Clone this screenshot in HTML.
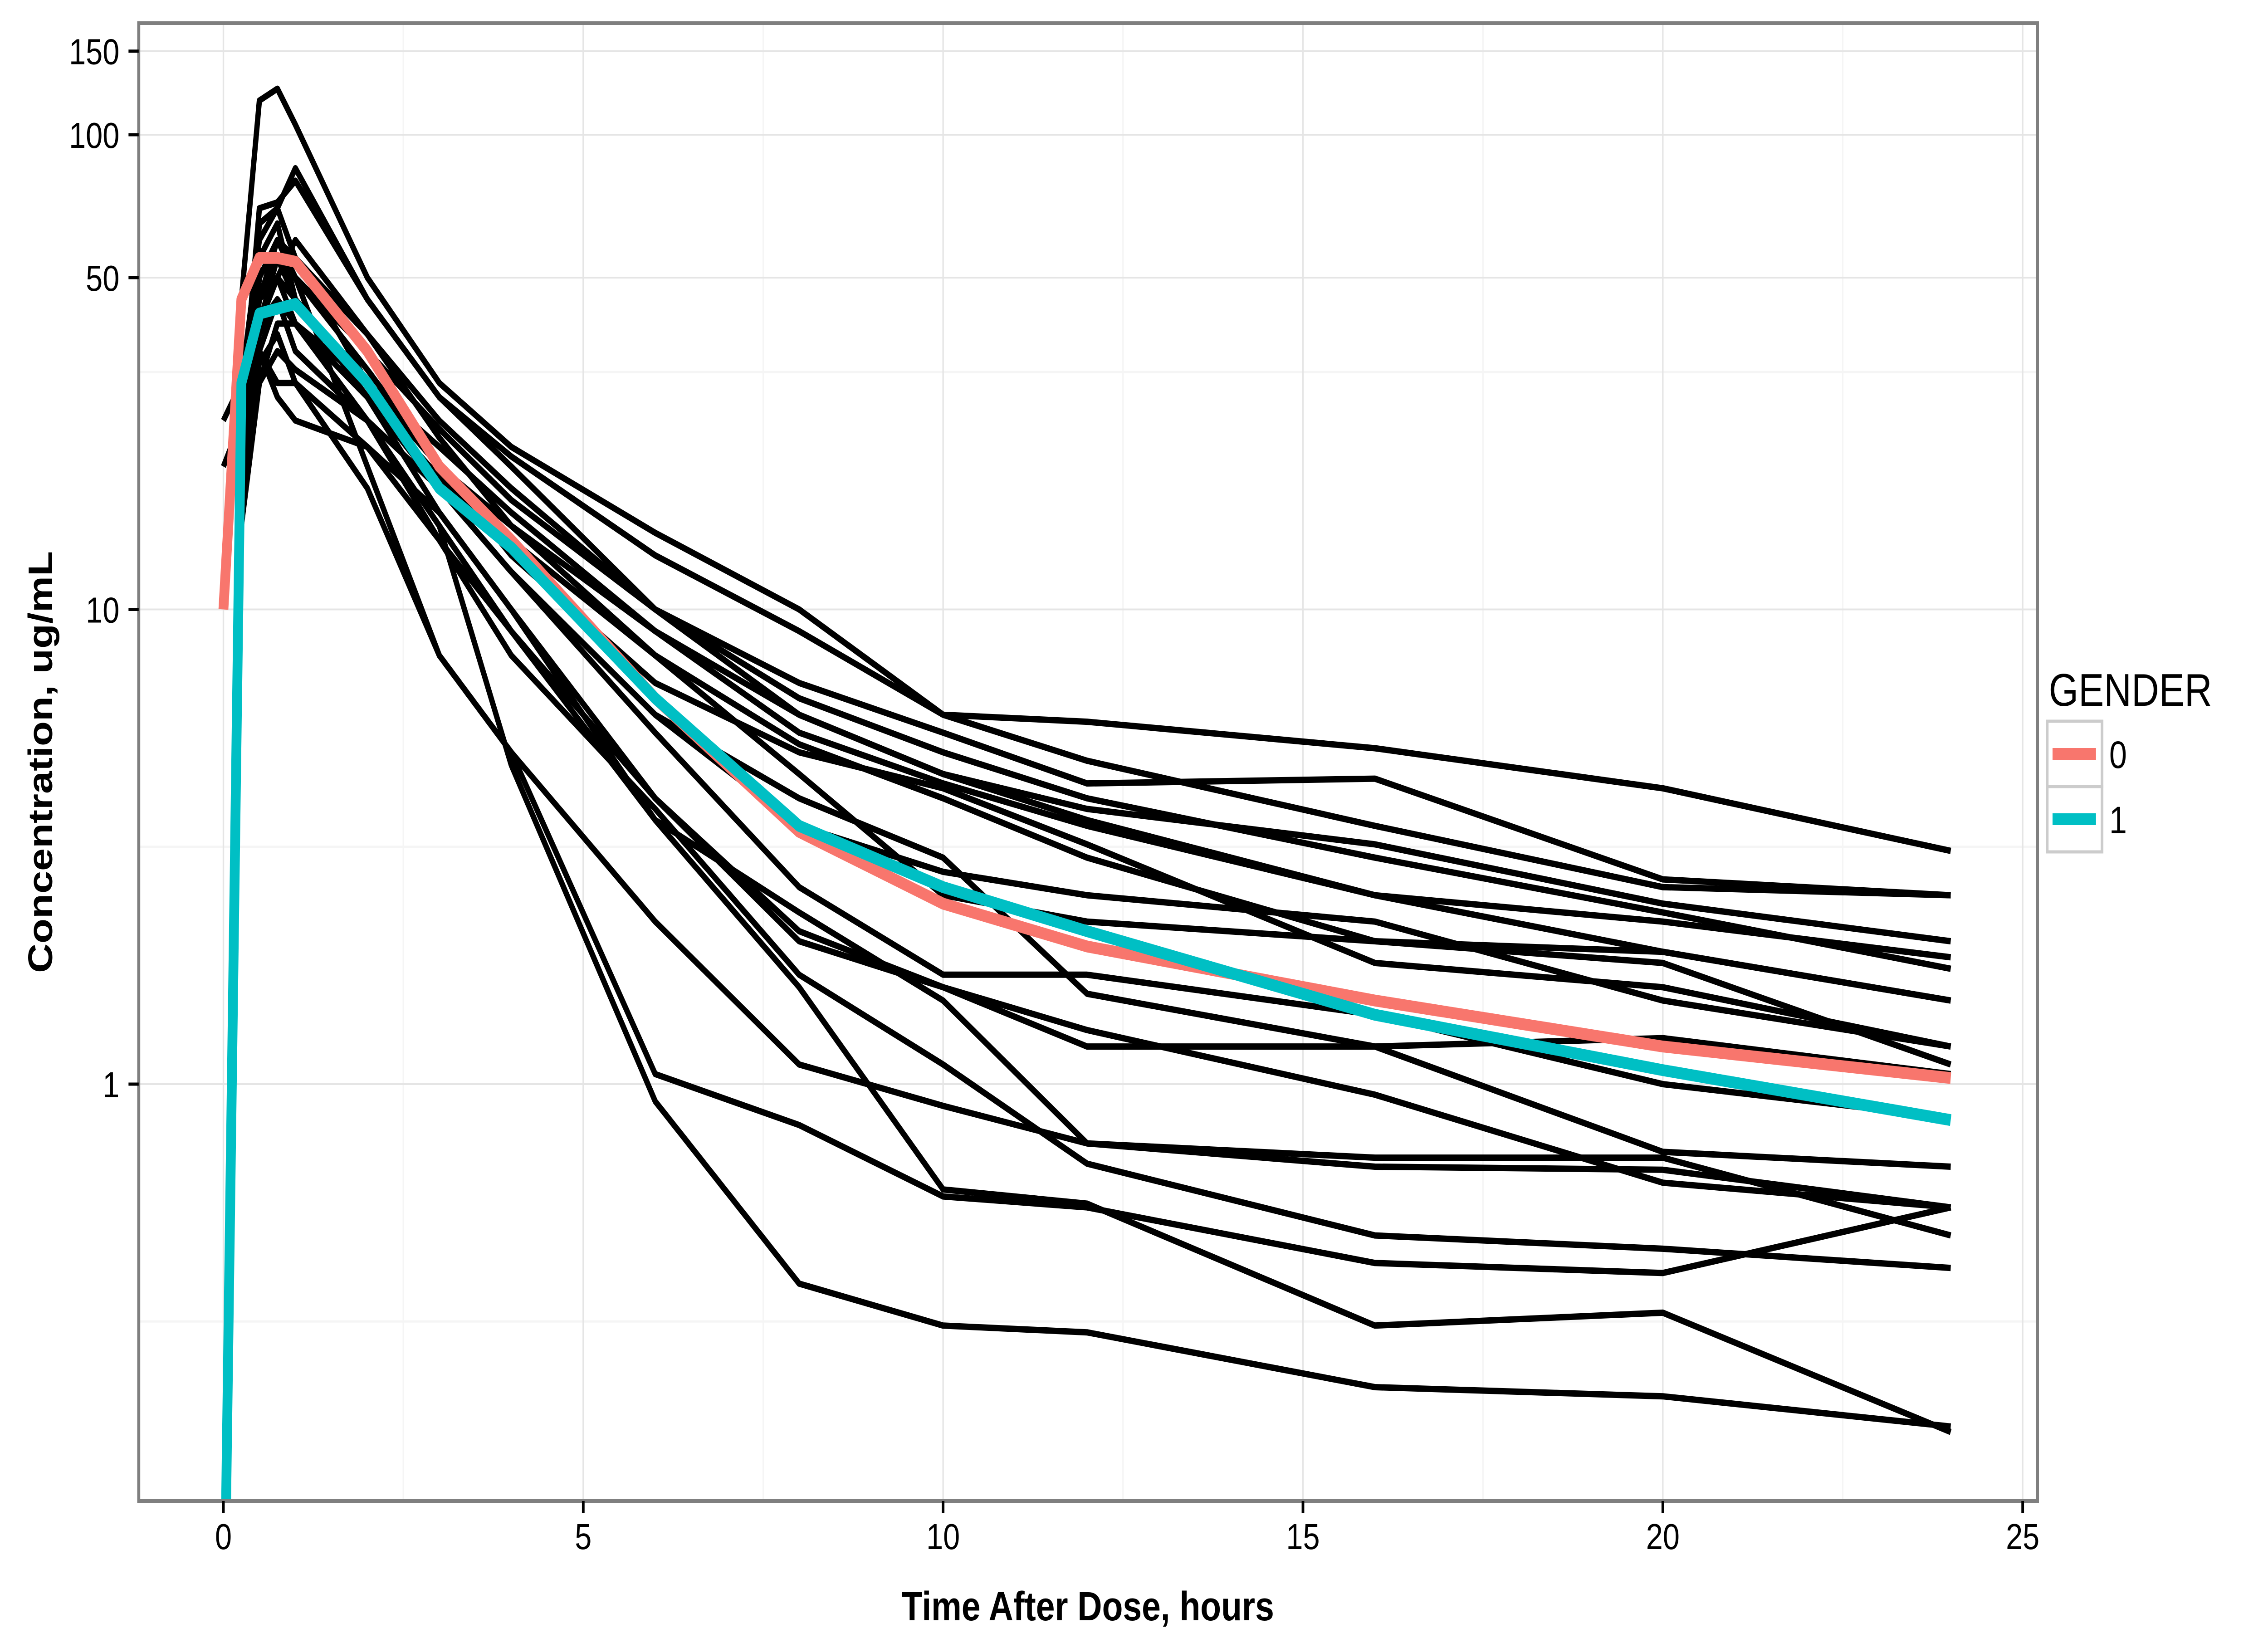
<!DOCTYPE html>
<html><head><meta charset="utf-8"><style>
html,body{margin:0;padding:0;background:#fff;width:100%;height:100%;overflow:hidden}
svg{display:block;position:absolute;left:0;top:0;width:100vw;height:100vh;font-family:"Liberation Sans",Arial,sans-serif}
</style></head><body>
<svg id="chart" viewBox="0 0 6000 3600" preserveAspectRatio="none" xmlns="http://www.w3.org/2000/svg">
<defs><clipPath id="pc"><rect x="367" y="51" width="5023" height="3258"/></clipPath></defs>
<rect x="367" y="51" width="5023" height="3258" fill="#fff"/>
<g id="grid"></g>
<g id="lines" clip-path="url(#pc)"></g>
<rect x="367" y="51" width="5023" height="3258" fill="none" stroke="#7f7f7f" stroke-width="8"/>
<g id="axes"></g>
<text x="2878" y="3572" font-size="90" font-weight="bold" text-anchor="middle">Time After Dose, hours</text>
<text transform="translate(138,1680) rotate(-90)" font-size="90" font-weight="bold" text-anchor="middle">Concentration, ug/mL</text>
<g>
<text x="5420" y="1556" font-size="101">GENDER</text>
<rect x="5416" y="1590" width="145" height="144" fill="#fff" stroke="#cccccc" stroke-width="7"/>
<rect x="5416" y="1734" width="145" height="144" fill="#fff" stroke="#cccccc" stroke-width="7"/>
<line x1="5430" x2="5545" y1="1662" y2="1662" stroke="#F8766D" stroke-width="26"/>
<line x1="5430" x2="5545" y1="1806" y2="1806" stroke="#00BFC4" stroke-width="26"/>
<text x="5580" y="1693" font-size="84">0</text>
<text x="5580" y="1837" font-size="84">1</text>
</g>
</svg>
<script>
const times=[0,0.25,0.5,0.75,1,2,3,4,6,8,10,12,16,20,24];
const subjects=[
[0.05,45,118,125,105,50,30,22,14.5,10,6,5.8,5.1,4.2,3.1],
[0.05,25,70,72,80,45,28,21,13,9,6,4.8,3.5,2.6,2.5],
[0.05,20,50,60,55,38,25,18,10,7,5.5,4.3,4.4,2.7,2.5],
[25,30,45,55,50,35,24,17,10,6,4.5,3.8,3.2,2.4,2.0],
[0.05,18,40,50,60,38,23,15,9,6,4.5,3.6,2.5,2.2,1.85],
[0.05,22,65,70,85,45,28,20,10,6.5,5,4,3,2.3,1.75],
[0.05,15,35,45,40,30,22,16,9,5.5,4.3,3.5,2.5,1.9,1.5],
[0.05,20,45,60,50,32,20,15,8,5.2,4,3,2,1.9,1.5],
[0.05,25,55,65,45,30,20,13,7,5,4.2,3.2,1.8,1.6,1.2],
[0.05,20,40,55,45,28,18,12,6,3.5,2.8,2.5,2.2,1.5,1.2],
[20,25,38,45,40,28,19,14,8,4.5,2.5,2.2,2.0,1.8,1.1],
[0.05,30,60,70,55,30,18,12,6,4,3,1.55,1.2,1.25,1.05],
[0.05,15,30,35,32,25,18,12,5.5,2.6,1.7,1.7,1.4,1.0,0.85],
[0.05,18,40,50,45,28,16,10,4,2.1,1.6,1.2,1.2,0.72,0.67],
[0.05,28,35,28,25,22,16,10,3.6,2.3,1.5,0.75,0.67,0.66,0.55],
[0.05,20,50,60,50,20,8,5,2.2,1.1,0.9,0.75,0.7,0.7,0.48],
[0.05,25,35,30,30,18,8,5,1.05,0.82,0.58,0.55,0.42,0.4,0.55],
[0.05,20,30,40,40,25,14,8,3.8,1.7,1.1,0.68,0.48,0.45,0.41],
[0.05,30,40,45,35,25,15,4.7,0.92,0.38,0.31,0.3,0.23,0.22,0.19],
[0.05,22,33,38,30,22,14,9,3.6,1.6,0.6,0.56,0.31,0.33,0.185],
[0.05,25,45,50,40,25,15,9,4,2,1.6,1.3,0.95,0.62,0.55]
];
const mean0=[10,45,55,55,54,35,20,14,6.5,3.4,2.4,1.95,1.5,1.2,1.03];
const mean1=[0.05,30,42,43,44,30,18,13.5,6.5,3.5,2.6,2.1,1.4,1.07,0.84];
const xTicks=[0,5,10,15,20,25];
const yTicks=[1,10,50,100,150];
const yMinor=[Math.sqrt(10)/10,Math.sqrt(10),Math.sqrt(1000)];

const NS="http://www.w3.org/2000/svg";
const X=t=>591+t*190.4;
const Y=v=>2390-Math.log10(v)*1046.5;
function mk(tag,attrs,parent){const e=document.createElementNS(NS,tag);for(const k in attrs)e.setAttribute(k,attrs[k]);parent.appendChild(e);return e;}
const grid=document.getElementById('grid'),axes=document.getElementById('axes'),lines=document.getElementById('lines');
for(let t=2.5;t<25;t+=5){const l=mk('line',{x1:X(t),x2:X(t),y1:51,y2:3309,stroke:'#f5f5f5','stroke-width':4},grid);

}
yMinor.forEach(v=>{const l=mk('line',{x1:367,x2:5390,y1:Y(v),y2:Y(v),stroke:'#f5f5f5','stroke-width':5},grid);

});
xTicks.forEach(t=>{const l=mk('line',{x1:X(t),x2:X(t),y1:51,y2:3309,stroke:'#e5e5e5','stroke-width':4},grid);


const tk=mk('line',{x1:X(t),x2:X(t),y1:3309,y2:3336,stroke:'#000','stroke-width':7},axes);


const tx=mk('text',{x:X(t),y:3415,'font-size':80,'text-anchor':'middle'},axes);tx.textContent=t;

});
yTicks.forEach(v=>{const l=mk('line',{x1:367,x2:5390,y1:Y(v),y2:Y(v),stroke:'#e5e5e5','stroke-width':4},grid);


const tk=mk('line',{x1:340,x2:367,y1:Y(v),y2:Y(v),stroke:'#000','stroke-width':7},axes);


const tx=mk('text',{x:316,y:Y(v)+29,'font-size':80,'text-anchor':'end'},axes);tx.textContent=v;

});
function path(vals){return vals.map((v,i)=>(i?'L':'M')+X(times[i]).toFixed(1)+','+Y(Math.max(v,0.05)).toFixed(1)).join(' ');}
subjects.forEach((s,i)=>{const p=mk('path',{d:path(s),fill:'none',stroke:'#000','stroke-width':14,'stroke-linejoin':'round'},lines);

});
const p0=mk('path',{d:path(mean0),fill:'none',stroke:'#F8766D','stroke-width':26,'stroke-linejoin':'round'},lines);


const p1=mk('path',{d:path(mean1),fill:'none',stroke:'#00BFC4','stroke-width':26,'stroke-linejoin':'round'},lines);


</script>
</body></html>
